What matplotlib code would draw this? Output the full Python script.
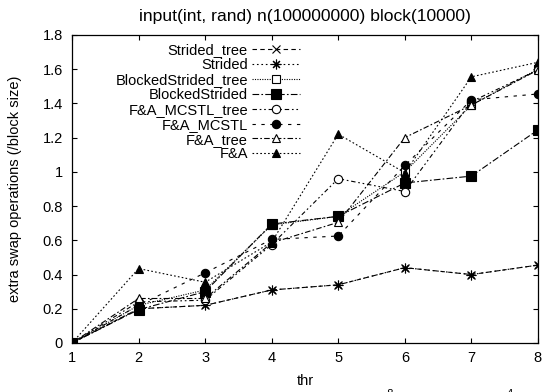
import numpy as np
import matplotlib
matplotlib.use("Agg")
import matplotlib.pyplot as plt

plt.rcParams['font.family'] = ['Liberation Sans', 'DejaVu Sans']
plt.rcParams['font.size'] = 10.5

# datos
thr = [1, 2, 3, 4, 5, 6, 7, 8]
strided_tree = [0, 0.20, 0.22, 0.31, 0.34, 0.44, 0.40, 0.455]
strided = [0, 0.20, 0.22, 0.31, 0.34, 0.44, 0.40, 0.455]
blocked_tree = [0, 0.22, 0.31, 0.69, 0.74, 1.00, 1.39, 1.60]
blocked = [0, 0.195, 0.30, 0.695, 0.74, 0.935, 0.975, 1.245]
mcstl_tree = [0, 0.24, 0.25, 0.575, 0.96, 0.885, 1.41, 1.595]
mcstl = [0, 0.22, 0.41, 0.605, 0.625, 1.037, 1.42, 1.455]
fa_tree = [0, 0.26, 0.26, 0.585, 0.705, 1.20, 1.39, 1.595]
fa = [0, 0.435, 0.355, 0.59, 1.22, 0.995, 1.555, 1.64]

nomes = ["Strided_tree", "Strided", "BlockedStrided_tree", "BlockedStrided",
         "F&A_MCSTL_tree", "F&A_MCSTL", "F&A_tree", "F&A"]
series = [strided_tree, strided, blocked_tree, blocked,
          mcstl_tree, mcstl, fa_tree, fa]

# estilo tipo gnuplot: (marcador, preenchido, tracos)
estilos = [
    ("x", True, (4, 3)),
    ((8, 2, 0), True, (1.5, 2.5)),
    ("s", False, (1, 1.2)),
    ("s", True, (6, 2, 1.5, 2)),
    ("o", False, (4, 2.5, 1.5, 2.5, 1.5, 2.5)),
    ("o", True, (3, 5)),
    ("^", False, (5, 2, 1.5, 2)),
    ("^", True, (1.5, 2)),
]
tamanhos = [6, 7, 6, 6.5, 6, 6, 6, 5.5]

fig = plt.figure(figsize=(5.54, 3.92), dpi=100)
ax = fig.add_axes([0.130, 0.125, 0.841, 0.786])

for nome, y, (mk, cheio, tr), ms in zip(nomes, series, estilos, tamanhos):
    ax.plot(thr, y, color="black", lw=0.8, dashes=tr, marker=mk, ms=ms,
            mfc="black" if cheio else "white", mec="black", mew=0.8,
            label=nome)

ax.set_xlim(1, 8)
ax.set_ylim(0, 1.8)
ax.set_xticks(thr)
ax.set_yticks(np.arange(0, 1.81, 0.2))
ax.set_yticklabels(["0", "0.2", "0.4", "0.6", "0.8", "1", "1.2", "1.4", "1.6", "1.8"])
ax.tick_params(axis="y", direction="in", length=3.6, width=0.8, right=True, pad=6.5)
ax.tick_params(axis="x", direction="in", length=3.6, width=0.8, top=True, pad=5.5)
for s in ax.spines.values():
    s.set_linewidth(0.9)

ax.set_xlabel("thr", labelpad=7)
ax.set_ylabel("extra swap operations (/block size)", labelpad=15)
ax.set_title("input(int, rand) n(100000000) block(10000)", pad=10)

# markerfirst=False ja alinha os textos a direita
leg = ax.legend(loc="upper right", bbox_to_anchor=(307 / 554, 1 - 36 / 392),
                bbox_transform=fig.transFigure, frameon=False, markerfirst=False,
                handlelength=3.3, labelspacing=0.06, borderpad=0, handletextpad=0.25)

# legenda de baixo, cortada na borda da figura
fig.text(382 / 554, -0.03, r"10$^8$", ha="center", va="baseline")
fig.text(502 / 554, -0.03, r"10$^4$", ha="center", va="baseline")

fig.savefig("out.png", dpi=100)
